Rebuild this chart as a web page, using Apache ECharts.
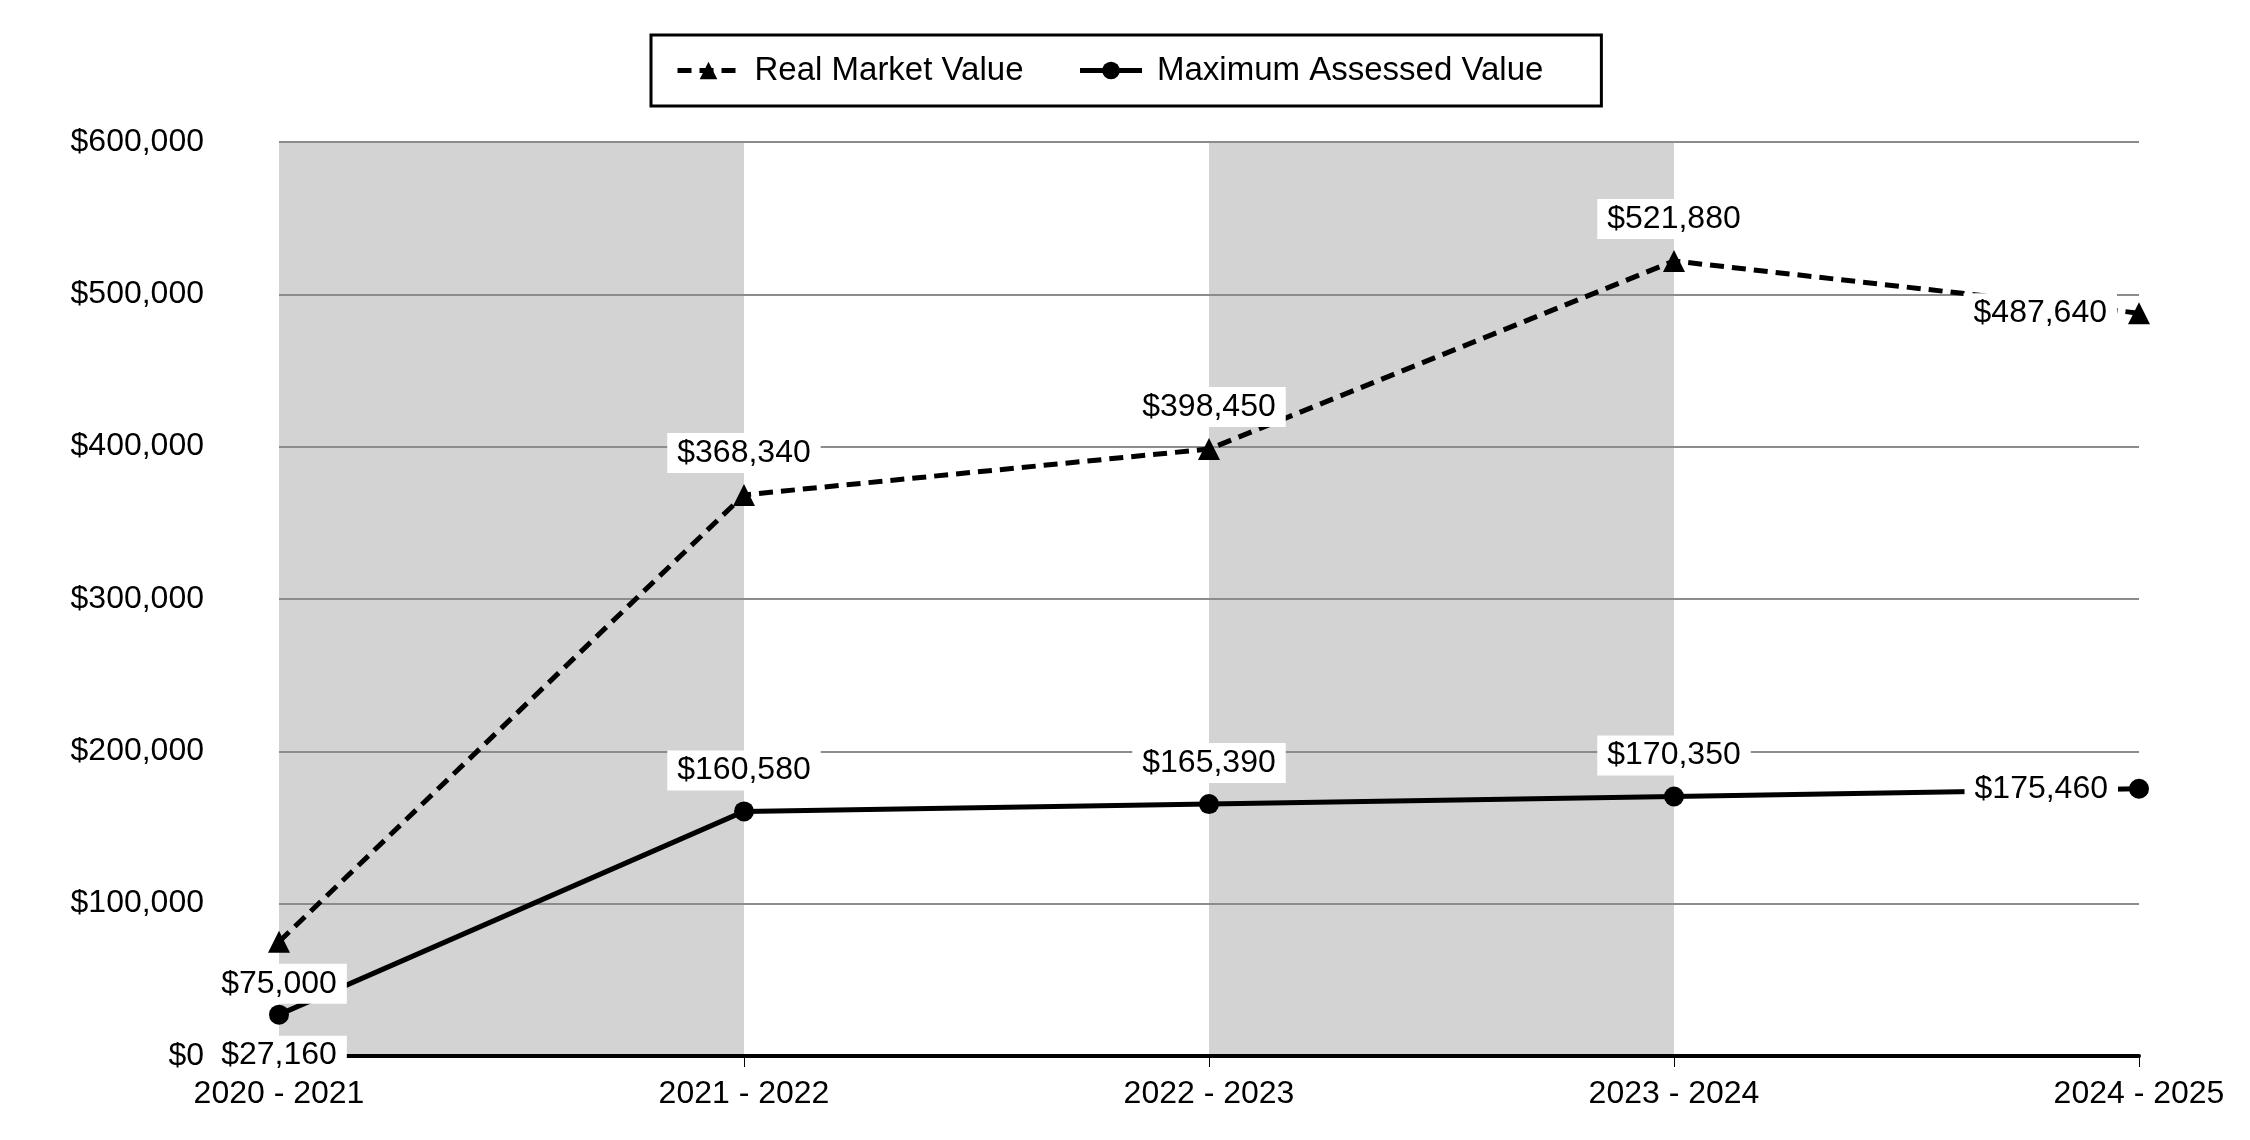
<!DOCTYPE html>
<html>
<head>
<meta charset="utf-8">
<script src="https://cdn.jsdelivr.net/npm/echarts@6/dist/echarts.min.js"></script>
<style>
html,body{margin:0;padding:0;background:#fff;}
#chart{width:2250px;height:1140px;}
</style>
</head>
<body>
<div id="chart"></div>
<script>
const categories = ['2020 - 2021', '2021 - 2022', '2022 - 2023', '2023 - 2024', '2024 - 2025'];
const realMarketValue = [75000, 368340, 398450, 521880, 487640];
const maxAssessedValue = [27160, 160580, 165390, 170350, 175460];
const yTicks = { min: 0, max: 600000, interval: 100000 };
// label placement per point: first below, middle above, last to the left
const labelPositions = ['bottom', 'top', 'top', 'top', 'left'];

const FONT = '"Liberation Sans", Arial, sans-serif';
const money = v => '$' + Math.round(v).toLocaleString('en-US');

function buildData(values) {
  return values.map((v, i) => ({
    value: v,
    label: { position: labelPositions[i] }
  }));
}

const labelStyle = {
  show: true,
  formatter: p => money(p.value),
  fontFamily: FONT,
  fontSize: 32,
  color: '#000',
  backgroundColor: '#fff',
  padding: [4, 10, 4, 10],
  distance: 11
};

const chart = echarts.init(document.getElementById('chart'));
chart.setOption({
  animation: false,
  backgroundColor: '#fff',
  textStyle: { fontFamily: FONT },
  legend: {
    top: 35,
    left: 651,
    padding: [19, 58, 19, 24],
    borderColor: '#000',
    borderWidth: 3,
    itemGap: 54,
    itemWidth: 62,
    itemHeight: 22,
    lineStyle: { width: 5 },
    textStyle: { fontFamily: FONT, fontSize: 33, color: '#000', padding: [0, 0, 0, 10] },
    data: ['Real Market Value', 'Maximum Assessed Value']
  },
  grid: { left: 279, right: 111, top: 142, bottom: 84, containLabel: false },
  xAxis: {
    type: 'category',
    data: categories,
    boundaryGap: false,
    z: 0,
    axisLine: { show: true, lineStyle: { color: '#000', width: 4 } },
    axisTick: { show: true, length: 11, lineStyle: { color: '#000', width: 1 } },
    axisLabel: { fontFamily: FONT, fontSize: 32, color: '#000', margin: 22 },
    splitLine: { show: false },
    splitArea: { show: true, areaStyle: { color: ['#d3d3d3', 'rgba(255,255,255,0)'] } }
  },
  yAxis: {
    type: 'value',
    min: yTicks.min,
    max: yTicks.max,
    interval: yTicks.interval,
    z: 1,
    axisLine: { show: false },
    axisTick: { show: false },
    axisLabel: { fontFamily: FONT, fontSize: 32, color: '#000', margin: 75, formatter: v => money(v) },
    splitLine: { show: true, showMinLine: false, lineStyle: { color: '#8c8c8c', width: 2 } }
  },
  series: [
    {
      name: 'Real Market Value',
      type: 'line',
      data: buildData(realMarketValue),
      symbol: 'triangle',
      symbolSize: 22,
      itemStyle: { color: '#000' },
      lineStyle: { color: '#000', width: 5, type: [14, 8] },
      label: labelStyle,
      z: 3
    },
    {
      name: 'Maximum Assessed Value',
      type: 'line',
      data: buildData(maxAssessedValue),
      symbol: 'circle',
      symbolSize: 20,
      itemStyle: { color: '#000' },
      lineStyle: { color: '#000', width: 5, type: 'solid' },
      label: labelStyle,
      z: 3
    }
  ]
});
</script>
</body>
</html>
